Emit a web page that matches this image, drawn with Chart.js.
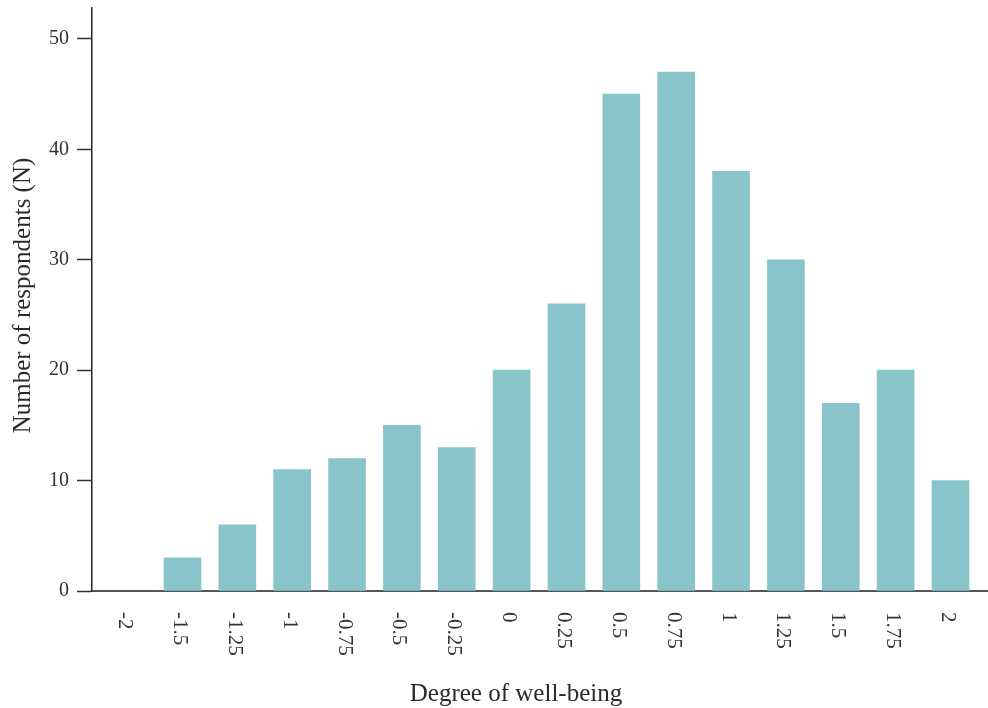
<!DOCTYPE html>
<html>
<head>
<meta charset="utf-8">
<script src="https://cdn.jsdelivr.net/npm/chart.js@4"></script>
<style>
  html, body { margin: 0; padding: 0; background: #fff; }
  #wrap { width: 988px; height: 708px; }
</style>
</head>
<body>
<div id="wrap"><canvas id="wellbeingChart" width="988" height="708"></canvas></div>
<script>
const categories = ['-2', '-1.5', '-1.25', '-1', '-0.75', '-0.5', '-0.25', '0', '0.25', '0.5', '0.75', '1', '1.25', '1.5', '1.75', '2'];
const respondents = [0, 3, 6, 11, 12, 15, 13, 20, 26, 45, 47, 38, 30, 17, 20, 10];
const yTicks = [0, 10, 20, 30, 40, 50];

const FONT = '"Liberation Serif", "DejaVu Serif", serif';
const BAR_COLOR = '#89c4cb';

// x labels run top-to-bottom and titles sit in fixed spots, so draw them here
const labelsAndTitles = {
  id: 'labelsAndTitles',
  afterDraw(chart) {
    const ctx = chart.ctx;
    const x = chart.scales.x;
    const area = chart.chartArea;
    ctx.save();
    ctx.fillStyle = '#333';
    ctx.font = '21px ' + FONT;
    ctx.textAlign = 'left';
    ctx.textBaseline = 'middle';
    categories.forEach((lab, i) => {
      ctx.save();
      ctx.translate(x.getPixelForValue(i) - 3, area.bottom + 21);
      ctx.rotate(Math.PI / 2);
      ctx.fillText(lab, 0, 0);
      ctx.restore();
    });

    ctx.fillStyle = '#2a2a2a';
    ctx.font = '25px ' + FONT;
    ctx.textAlign = 'center';
    ctx.textBaseline = 'alphabetic';
    ctx.fillText('Degree of well-being', 516, 701);

    ctx.save();
    ctx.translate(30, (area.top + area.bottom) / 2 - 4);
    ctx.rotate(-Math.PI / 2);
    ctx.fillText('Number of respondents (N)', 0, 0);
    ctx.restore();
    ctx.restore();
  }
};

new Chart(document.getElementById('wellbeingChart'), {
  type: 'bar',
  data: {
    datasets: [{
      data: respondents.map((v, i) => ({ x: i, y: v })),
      backgroundColor: (c) => (c.raw && c.raw.y > 0 ? BAR_COLOR : 'rgba(0,0,0,0)'),
      borderWidth: 0,
      barThickness: 37
    }]
  },
  options: {
    responsive: false,
    animation: false,
    layout: { padding: { top: 8, right: 0, left: 0, bottom: 0 } },
    plugins: {
      legend: { display: false },
      tooltip: { enabled: false }
    },
    scales: {
      x: {
        type: 'linear',
        offset: false,
        min: -0.649,
        max: 15.684,
        grid: { display: false },
        border: { display: true, color: '#555', width: 2 },
        ticks: { display: false },
        afterBuildTicks: (s) => { s.ticks = categories.map((c, i) => ({ value: i })); },
        afterFit: (s) => { s.height = 117; s.paddingLeft = 0; s.paddingRight = 0; }
      },
      y: {
        min: 0,
        max: 52.8,
        grid: {
          display: true,
          drawOnChartArea: false,
          drawTicks: true,
          tickLength: 15,
          tickWidth: 1.5,
          color: '#333'
        },
        border: { display: true, color: '#222', width: 1.5 },
        ticks: {
          stepSize: 10,
          padding: 8,
          color: '#333',
          font: { family: FONT, size: 20 }
        },
        afterBuildTicks: (s) => { s.ticks = yTicks.map(v => ({ value: v })); },
        afterFit: (s) => { s.width = 92; s.paddingTop = 0; s.paddingBottom = 0; }
      }
    }
  },
  plugins: [labelsAndTitles]
});
</script>
</body>
</html>
